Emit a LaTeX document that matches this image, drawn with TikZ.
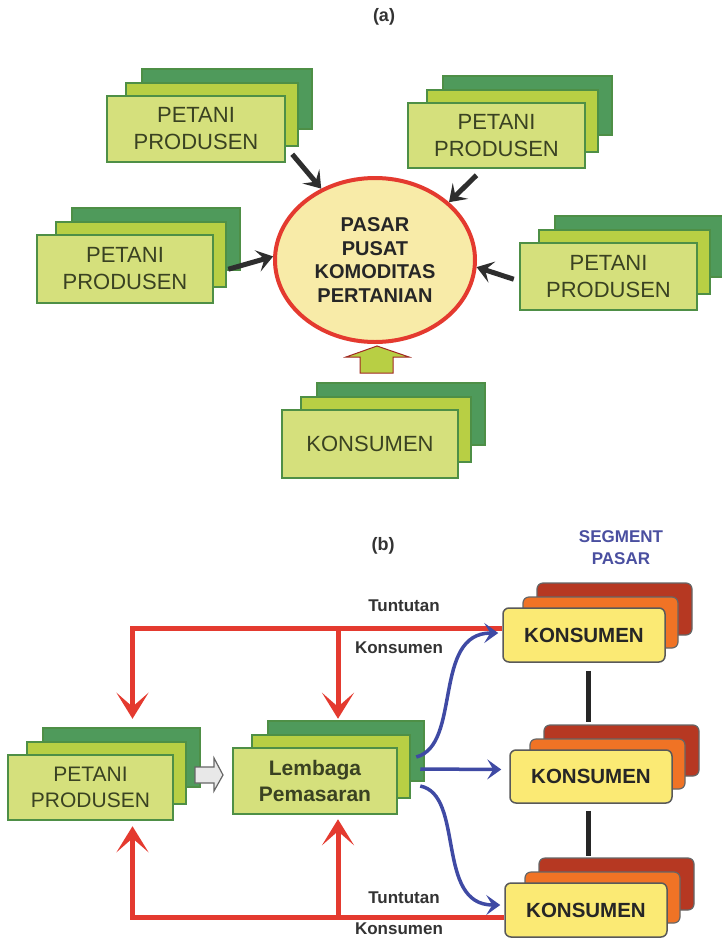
\documentclass[tikz,border=0pt]{standalone}
\usepackage{fontspec}
\setmainfont{Liberation Sans}
\usetikzlibrary{arrows.meta,shapes.geometric,calc}
\definecolor{gfront}{HTML}{D5E07C}
\definecolor{gmid}{HTML}{B8CF44}
\definecolor{gback}{HTML}{4F9A5B}
\definecolor{gline}{HTML}{4E8F46}
\definecolor{gtext}{HTML}{3A4222}
\definecolor{kfront}{HTML}{FBEA74}
\definecolor{kmid}{HTML}{F07325}
\definecolor{kback}{HTML}{B63822}
\definecolor{redl}{HTML}{E43A2F}
\definecolor{bluel}{HTML}{3F4AA4}
\definecolor{darkar}{HTML}{2E2E2E}
\definecolor{ellfill}{HTML}{F8EBA8}
\definecolor{segblue}{HTML}{4A4FA0}
\tikzset{
  gb/.style={fill=gback,draw=gline,line width=2pt},
  gm/.style={fill=gmid,draw=gline,line width=2pt},
  gf/.style={fill=gfront,draw=gline,line width=2.5pt,align=center,inner sep=0pt,text=gtext},
  fa/.style={font=\fontsize{22}{27}\selectfont},
  fb/.style={font=\fontsize{21}{26}\selectfont},
  fbb/.style={font=\bfseries\fontsize{21}{26}\selectfont},
  kb/.style={font=\bfseries\fontsize{20.5}{25}\selectfont,text=black!85},
  kbk/.style={fill=kback,draw=black!60,line width=1.2pt,rounded corners=6pt},
  kmd/.style={fill=kmid,draw=black!60,line width=1.2pt,rounded corners=6pt},
  kfr/.style={fill=kfront,draw=black!65,line width=1.5pt,rounded corners=6pt,align=center,inner sep=0pt},
  darr/.style={draw=darkar,line width=5pt,-{Stealth[length=16pt,width=22pt,inset=7pt]}},
  rline/.style={draw=redl,line width=5pt},
  rarr/.style={draw=redl,line width=5pt,-{Stealth[length=26pt,width=32pt,inset=14pt]}},
  barr/.style={draw=bluel,line width=3.5pt,-{Stealth[length=14pt,width=20pt,inset=6pt]}},
  lbl/.style={font=\bfseries\fontsize{17}{20}\selectfont,text=black!80},
  vline/.style={draw=black!85,line width=5pt},
}
% name, x1, y1, x2, y2, font style, text
\newcommand{\gstk}[7]{%
  \filldraw[gb] (#2+35,#3-27) rectangle (#4+27,#5-33);
  \filldraw[gm] (#2+19,#3-13) rectangle (#4+13,#5-16);
  \node[gf,#6,minimum width={#4-#2},minimum height={#5-#3}] (#1) at ({(#2+#4)/2},{(#3+#5)/2}) {#7};
}
\newcommand{\kstk}[6]{%
  \filldraw[kbk] (#2+34,#3-25) rectangle (#4+27,#5-27);
  \filldraw[kmd] (#2+20,#3-11) rectangle (#4+13,#5-14);
  \node[kfr,kb,minimum width={#4-#2},minimum height={#5-#3}] (#1) at ({(#2+#4)/2},{(#3+#5)/2}) {#6};
}
\begin{document}
\begin{tikzpicture}[x=1pt,y=-1pt]
\useasboundingbox (0,0) rectangle (721,940);
\fill[white] (0,0) rectangle (721,940);

% ---------- (a) ----------
\node[font=\bfseries\fontsize{18}{20}\selectfont,text=black!80] (ta) at (384,17) {(a)};

\gstk{tl}{107}{96}{285}{162}{fa}{PETANI\\PRODUSEN}
\gstk{tr}{408}{103}{585}{168}{fa}{PETANI\\PRODUSEN}
\gstk{ml}{37}{235}{213}{303}{fa}{PETANI\\PRODUSEN}
\gstk{mr}{520}{243}{697}{310}{fa}{PETANI\\PRODUSEN}
\gstk{ka}{282}{410}{458}{478}{fa}{KONSUMEN}

\node[ellipse,fill=ellfill,draw=redl,line width=4pt,minimum width=200,minimum height=164,inner sep=0pt,align=center,
      font=\bfseries\fontsize{20}{23.5}\selectfont,text=black!85] (pasar) at (375,260)
      {PASAR\\PUSAT\\KOMODITAS\\PERTANIAN};

\draw[darr] ([shift={(6,-9)}]tl.south east) -- (pasar.127);
\draw[darr] ([shift={(-20,6)}]tr.south) -- (pasar.38);
\draw[darr] ([shift={(14,-35)}]ml.south east) -- (pasar.178);
\draw[darr] ([shift={(-5,-32)}]mr.south west) -- (pasar.-4);

% up block arrow
\filldraw[fill=gmid,draw=redl!70!black,line width=1pt]
  (360,373) -- (360,357) -- (346,357) -- (377,346) -- (409,357) -- (393,357) -- (393,373) -- cycle;

% ---------- (b) ----------
\node[font=\bfseries\fontsize{18}{20}\selectfont,text=black!80] (tb) at (383,546) {(b)};
\node[font=\bfseries\fontsize{17}{22}\selectfont,text=segblue,align=center] (seg) at (621,548) {SEGMENT\\PASAR};

\gstk{pp}{8}{755}{173}{820}{fb}{PETANI\\PRODUSEN}
\gstk{lp}{233}{748}{397}{814}{fbb}{Lembaga\\Pemasaran}

\kstk{k1}{503}{608}{665}{662}{KONSUMEN}
\kstk{k2}{510}{750}{672}{803}{KONSUMEN}
\kstk{k3}{505}{883}{667}{937}{KONSUMEN}

% grey block arrow
\filldraw[fill=gray!18,draw=black!60,line width=1.2pt]
  (195,767) -- (214,767) -- (214,758) -- (223,775) -- (214,791) -- (214,783) -- (195,783) -- cycle;

% black connectors between segments
\coordinate (v1) at ($(k1.south)+(4,8)$);
\coordinate (v2) at ($(k2.south)+(-3,7)$);
\draw[vline] (v1) -- ($(v1 |- k2.north)+(0,-27)$);
\draw[vline] (v2) -- ($(v2 |- k3.north)+(0,-26)$);

% red feedback lines
\coordinate (ta1) at ($(pp.north)+(42,-35)$);
\coordinate (ta2) at ($(lp.north)+(23,-28)$);
\coordinate (ba1) at ($(pp.south)+(42,5)$);
\coordinate (ba2) at ($(lp.south)+(23,4)$);
\coordinate (topy) at ($(k1.west)+(0,-7)$);
\coordinate (boty) at ($(k3.west)+(0,7)$);

\draw[rline] (topy) -- (topy -| ta1) -- ($(ta1)+(0,-25)$);
\draw[rarr] ($(ta1)+(0,-40)$) -- (ta1);
\draw[rarr] (ta2 |- topy) -- (ta2);
\draw[rline] (boty) -- (boty -| ba1) -- ($(ba1)+(0,25)$);
\draw[rarr] ($(ba1)+(0,40)$) -- (ba1);
\draw[rarr] (ba2 |- boty) -- (ba2);

\node[lbl] (t1) at (404,606) {Tuntutan};
\node[lbl] (c1) at (399,648) {Konsumen};
\node[lbl] (t2) at (404,898) {Tuntutan};
\node[lbl] (c2) at (399,929) {Konsumen};

% blue distribution arrows
\draw[barr] ($(lp.east)+(18,-24)$) .. controls (462,745) and (432,633) .. ($(k1.west)+(-4,-2)$);
\draw[barr] ($(lp.east)+(22,-12)$) -- ($(k2.west)+(-8,-7)$);
\draw[barr] ($(lp.east)+(22,5)$) .. controls (465,795) and (435,905) .. ($(k3.west)+(-4,-5)$);
\end{tikzpicture}
\end{document}
